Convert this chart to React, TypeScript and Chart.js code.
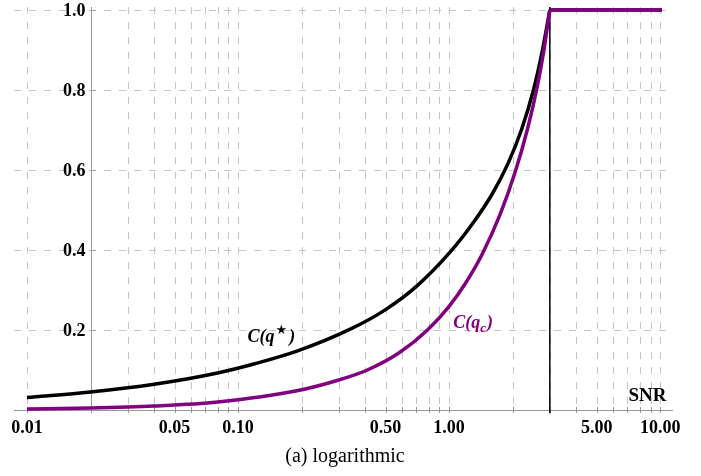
import React, { useEffect, useRef } from "react";
import { Chart, registerables } from "chart.js";

Chart.register(...registerables);

// ---- data ----
const snrStar = [0.01, 0.02, 0.04, 0.08, 0.12, 0.19, 0.34, 0.5, 0.7, 1.02, 1.3, 1.6, 1.9, 2.2, 2.51, 2.75, 3.0];
const cStar = [0.031, 0.0448, 0.0643, 0.0925, 0.1155, 0.147, 0.202, 0.251, 0.309, 0.397, 0.468, 0.54, 0.616, 0.70, 0.80, 0.892, 1.0];

const snrQc = [0.01, 0.02, 0.04, 0.08, 0.19, 0.3, 0.41, 0.58, 0.79, 1.0, 1.2, 1.43, 1.75, 2.05, 2.35, 2.61, 2.8, 3.0];
const cQc = [0.0025, 0.005, 0.01, 0.02, 0.048, 0.075, 0.1, 0.143, 0.2, 0.259, 0.318, 0.388, 0.491, 0.593, 0.702, 0.806, 0.893, 1.0];

const snrFlat = [3.0, 10.2];
const cFlat = [1.0, 1.0];

const thresholdSnr = 3.0;
const thresholdY = [-0.008, 1.0125];

const xTickValues = [0.01, 0.05, 0.1, 0.5, 1, 5, 10];
const xTickLabels = ["0.01", "0.05", "0.10", "0.50", "1.00", "5.00", "10.00"];
const yTickValues = [0.2, 0.4, 0.6, 0.8, 1.0];
const yTickLabels = ["0.2", "0.4", "0.6", "0.8", "1.0"];
const gridDecades = [0.01, 0.1, 1];
const gridMultipliers = [1, 2, 3, 4, 5, 6, 7, 8, 9];
const gridLast = [10];

const xMin = 0.00868;
const xMax = 11.5;
const yMin = -0.02;
const yMax = 1.0075;
const yAxisAt = 0.02;

const labelStar = { x: 0.111, y: 0.171 };
const labelQc = { x: 1.045, y: 0.206 };
const snrLabel = { x: 8.7 };

const PURPLE = "#800080";

function pts(xs: number[], ys: number[]) {
  return xs.map((v, i) => ({ x: v, y: ys[i] }));
}

const decorPlugin = {
  id: "decor",
  beforeDatasetsDraw(chart: any) {
    const { ctx, chartArea, scales } = chart;
    const x = scales.x;
    const y = scales.y;
    const left = chartArea.left;
    const right = chartArea.right;
    const top = chartArea.top;
    const y0 = y.getPixelForValue(0);
    const xa = x.getPixelForValue(yAxisAt);

    const gridVals: number[] = [];
    gridDecades.forEach((d) => gridMultipliers.forEach((m) => gridVals.push(d * m)));
    gridLast.forEach((v) => gridVals.push(v));

    ctx.save();
    ctx.lineWidth = 1;
    ctx.strokeStyle = "#c4c4c4";
    ctx.setLineDash([7, 8]);
    for (const v of gridVals) {
      const px = Math.round(x.getPixelForValue(v)) + 0.5;
      ctx.beginPath();
      ctx.moveTo(px, top);
      ctx.lineTo(px, y0);
      ctx.stroke();
    }
    for (const v of yTickValues) {
      const py = Math.round(y.getPixelForValue(v)) + 0.5;
      ctx.beginPath();
      ctx.moveTo(left, py);
      ctx.lineTo(right, py);
      ctx.stroke();
    }
    ctx.setLineDash([]);

    // axes
    ctx.strokeStyle = "#999999";
    const y0r = Math.round(y0) + 0.5;
    ctx.beginPath();
    ctx.moveTo(left, y0r);
    ctx.lineTo(right, y0r);
    ctx.stroke();
    const xar = Math.round(xa) + 0.5;
    ctx.beginPath();
    ctx.moveTo(xar, top);
    ctx.lineTo(xar, y0 + 3);
    ctx.stroke();

    // x ticks
    for (const v of gridVals) {
      const px = Math.round(x.getPixelForValue(v)) + 0.5;
      ctx.beginPath();
      ctx.moveTo(px, y0 - 3);
      ctx.lineTo(px, y0 + 3);
      ctx.stroke();
    }
    // y ticks
    for (const v of yTickValues) {
      const py = Math.round(y.getPixelForValue(v)) + 0.5;
      ctx.beginPath();
      ctx.moveTo(xar, py);
      ctx.lineTo(xar + 4, py);
      ctx.stroke();
    }
    ctx.restore();
  },
  afterDatasetsDraw(chart: any) {
    const { ctx, scales } = chart;
    const x = scales.x;
    const y = scales.y;
    const y0 = y.getPixelForValue(0);
    const xa = x.getPixelForValue(yAxisAt);

    ctx.save();
    ctx.fillStyle = "#000";
    ctx.font = "bold 18px 'Liberation Serif'";
    ctx.textAlign = "center";
    ctx.textBaseline = "alphabetic";
    xTickValues.forEach((v, i) => {
      ctx.fillText(xTickLabels[i], x.getPixelForValue(v), y0 + 23);
    });
    ctx.textAlign = "right";
    ctx.textBaseline = "middle";
    yTickValues.forEach((v, i) => {
      ctx.fillText(yTickLabels[i], xa - 5, y.getPixelForValue(v) + 1.5);
    });

    // SNR axis label
    ctx.font = "bold 19px 'Liberation Serif'";
    ctx.textAlign = "center";
    ctx.textBaseline = "alphabetic";
    ctx.fillText("SNR", x.getPixelForValue(snrLabel.x), y0 - 9);

    // curve labels
    ctx.textAlign = "left";
    // C(q*)
    let px = x.getPixelForValue(labelStar.x);
    let py = y.getPixelForValue(labelStar.y);
    ctx.fillStyle = "#000";
    ctx.font = "italic bold 18px 'Liberation Serif'";
    ctx.fillText("C(q", px, py);
    px += ctx.measureText("C(q").width;
    ctx.font = "bold 13px 'DejaVu Sans'";
    ctx.fillText("\u2605", px + 1, py - 8);
    px += ctx.measureText("\u2605").width + 3;
    ctx.font = "italic bold 18px 'Liberation Serif'";
    ctx.fillText(")", px, py);

    // C(q_c)
    px = x.getPixelForValue(labelQc.x);
    py = y.getPixelForValue(labelQc.y);
    ctx.fillStyle = PURPLE;
    ctx.font = "italic bold 18px 'Liberation Serif'";
    ctx.fillText("C(q", px, py);
    px += ctx.measureText("C(q").width;
    ctx.font = "italic bold 13px 'Liberation Serif'";
    ctx.fillText("c", px, py + 4);
    px += ctx.measureText("c").width + 1;
    ctx.font = "italic bold 18px 'Liberation Serif'";
    ctx.fillText(")", px, py);

    // caption
    ctx.fillStyle = "#000";
    ctx.font = "20px 'Liberation Serif'";
    ctx.textAlign = "center";
    ctx.fillText("(a) logarithmic", 345, 462);
    ctx.restore();
  },
};

export default function App() {
  const ref = useRef<HTMLCanvasElement | null>(null);

  useEffect(() => {
    if (!ref.current) return;
    const chart = new Chart(ref.current, {
      type: "line",
      data: {
        datasets: [
          {
            data: pts(snrFlat, cFlat),
            borderColor: PURPLE,
            borderWidth: 3.5,
            pointRadius: 0,
          },
          {
            data: pts(snrQc, cQc),
            borderColor: PURPLE,
            borderWidth: 3.5,
            pointRadius: 0,
            cubicInterpolationMode: "monotone",
          },
          {
            data: pts(snrStar, cStar),
            borderColor: "#000",
            borderWidth: 3.5,
            pointRadius: 0,
            cubicInterpolationMode: "monotone",
          },
          {
            data: pts(snrFlat, cFlat),
            borderColor: "#000",
            borderWidth: 3.5,
            pointRadius: 0,
          },
          {
            data: pts([thresholdSnr, thresholdSnr], thresholdY),
            borderColor: "#000",
            borderWidth: 1.5,
            pointRadius: 0,
          },
        ] as any,
      },
      options: {
        animation: false,
        responsive: false,
        devicePixelRatio: 1,
        parsing: false as any,
        normalized: true,
        layout: { padding: { left: 14, right: 28, top: 7, bottom: 58 } },
        plugins: { legend: { display: false }, tooltip: { enabled: false } },
        events: [],
        scales: {
          x: { type: "logarithmic", min: xMin, max: xMax, display: false },
          y: { type: "linear", min: yMin, max: yMax, display: false },
        },
      },
      plugins: [decorPlugin],
    });
    return () => chart.destroy();
  }, []);

  return (
    <div style={{ position: "fixed", left: 0, top: 0, width: 701, height: 476, background: "#fff" }}>
      <canvas ref={ref} width={701} height={476} style={{ width: 701, height: 476, display: "block" }} />
    </div>
  );
}
